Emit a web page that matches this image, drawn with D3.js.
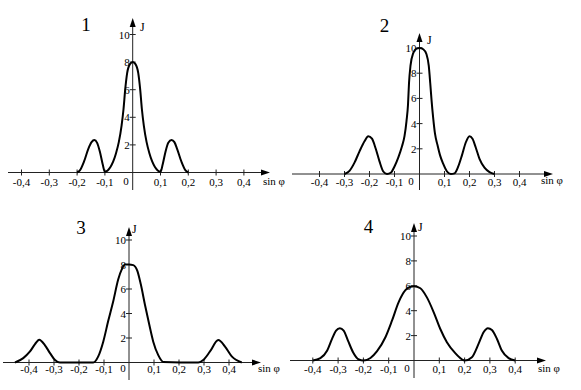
<!DOCTYPE html>
<html>
<head>
<meta charset="utf-8">
<script src="https://cdn.jsdelivr.net/npm/d3@7"></script>
<style>
  body { margin: 0; background: #fff; }
  svg { display: block; }
</style>
</head>
<body>
<div id="chart"></div>
<script>
// tick values shared by all four plots
const xTicks = [-0.4, -0.3, -0.2, -0.1, 0.1, 0.2, 0.3, 0.4];
const yTicks = [2, 4, 6, 8, 10];
const titles = ["1", "2", "3", "4"];

// plot 1
const sin1 = [-0.2, -0.19, -0.175, -0.16, -0.148, -0.138, -0.128, -0.118, -0.108, -0.1, -0.09, -0.08, -0.07, -0.06, -0.05, -0.04, -0.033, -0.027, -0.02, -0.01, 0,
              0.01, 0.02, 0.027, 0.033, 0.04, 0.05, 0.06, 0.07, 0.08, 0.09, 0.1, 0.108, 0.118, 0.128, 0.14, 0.15, 0.16, 0.175, 0.19, 0.2];
const J1 = [0, 0.15, 0.8, 1.7, 2.2, 2.35, 2.15, 1.5, 0.6, 0.05, 0.15, 0.4, 0.8, 1.4, 2.2, 3.4, 4.6, 6, 7.2, 7.85, 8,
            7.85, 7.2, 6, 4.6, 3.4, 2.2, 1.4, 0.8, 0.4, 0.15, 0.05, 0.6, 1.5, 2.15, 2.35, 2.2, 1.7, 0.8, 0.15, 0];

// plot 2
const sin2 = [-0.3, -0.28, -0.26, -0.24, -0.22, -0.205, -0.19, -0.175, -0.16, -0.145, -0.13, -0.115, -0.1, -0.085, -0.07, -0.06, -0.052, -0.046, -0.042, -0.036, -0.025, -0.012, 0,
              0.015, 0.028, 0.037, 0.043, 0.048, 0.055, 0.062, 0.072, 0.082, 0.095, 0.11, 0.125, 0.14, 0.155, 0.17, 0.185, 0.2, 0.212, 0.225, 0.24, 0.26, 0.28, 0.3];
const J2 = [0, 0.25, 0.9, 1.8, 2.6, 3.0, 2.8, 2.0, 1.0, 0.2, 0, 0.1, 0.6, 1.3, 2.2, 3.0, 4.2, 5.5, 7.2, 8.6, 9.6, 9.95, 10,
            9.9, 9.5, 8.6, 7.2, 5.9, 4.4, 3.2, 2.3, 1.5, 0.8, 0.2, 0, 0.05, 0.6, 1.5, 2.5, 3.0, 2.8, 2.1, 1.2, 0.5, 0.15, 0];

// plot 3
const sin3 = [-0.456, -0.423, -0.396, -0.376, -0.359, -0.336, -0.316, -0.296, -0.276, -0.143, -0.123, -0.103, -0.083, -0.063, -0.043, -0.029, -0.016, 0,
              0.017, 0.033, 0.047, 0.064, 0.081, 0.097, 0.117, 0.137, 0.277, 0.297, 0.324, 0.357, 0.384, 0.411, 0.451];
const J3 = [0, 0.36, 0.9, 1.5, 1.86, 1.4, 0.77, 0.2, 0, 0, 0.5, 1.7, 3.4, 5.0, 6.8, 7.6, 8.0, 8.0,
            7.95, 7.5, 6.4, 4.7, 3.1, 1.7, 0.6, 0.05, 0, 0.2, 0.9, 1.83, 1.3, 0.5, 0];

// plot 4
const sin4 = [-0.4, -0.37, -0.343, -0.324, -0.308, -0.293, -0.278, -0.261, -0.241, -0.218, -0.2, -0.172, -0.146, -0.113, -0.087, -0.061, -0.034, -0.014, 0,
              0.025, 0.051, 0.078, 0.104, 0.13, 0.163, 0.189, 0.2, 0.229, 0.255, 0.275, 0.292, 0.308, 0.328, 0.347, 0.374, 0.4];
const J4 = [0, 0.19, 0.8, 1.73, 2.4, 2.6, 2.4, 1.6, 0.67, 0.08, 0, 0.2, 0.75, 1.87, 3.2, 4.67, 5.65, 5.92, 5.97,
            5.8, 5.07, 3.87, 2.53, 1.47, 0.59, 0.1, 0, 0.27, 1.33, 2.27, 2.6, 2.45, 1.73, 0.8, 0.19, 0];

// where each plot sits on the page
const layout = [
  { cx: 132.7, cy: 172.5, kx: 278, ky: 13.8,  left: 8,   right: 270, bottom: 190, top: 18,
    title: [86, 31],   jLab: [140, 30.5], sinLab: [263, 185], tickY: 186, zero: [126, 185] },
  { cx: 419.5, cy: 174,   kx: 250, ky: 12.6,  left: 292, right: 553, bottom: 190, top: 33,
    title: [384.5, 32], jLab: [427, 44],  sinLab: [541, 184], tickY: 186, zero: [411, 185] },
  { cx: 129,   cy: 362.5, kx: 250, ky: 12.25, left: 3,   right: 261, bottom: 380, top: 227,
    title: [81, 234],  jLab: [132, 233],  sinLab: [258, 372], tickY: 373, zero: [123, 372] },
  { cx: 414,   cy: 360.5, kx: 253, ky: 12.45, left: 290, right: 546, bottom: 378, top: 223,
    title: [368.5, 233], jLab: [418, 231], sinLab: [538, 372], tickY: 373, zero: [407, 372] }
];

const series = [[sin1, J1], [sin2, J2], [sin3, J3], [sin4, J4]];
const serif = "'Liberation Serif', 'Times New Roman', 'DejaVu Serif', serif";

const svg = d3.select("#chart").append("svg")
  .attr("width", 581)
  .attr("height", 390)
  .attr("font-family", serif);

const fmt = (v) => (v < 0 ? "-" : "") + Math.abs(v).toFixed(1).replace(".", ",");

layout.forEach((p, i) => {
  const x = d3.scaleLinear().domain([-1, 1]).range([p.cx - p.kx, p.cx + p.kx]);
  const y = d3.scaleLinear().domain([0, 10]).range([p.cy, p.cy - 10 * p.ky]);
  const g = svg.append("g");
  const axisCol = "#222";

  // axes
  g.append("line").attr("x1", p.left).attr("x2", p.right - 4).attr("y1", y(0)).attr("y2", y(0))
    .attr("stroke", axisCol).attr("stroke-width", 1);
  g.append("line").attr("x1", x(0)).attr("x2", x(0)).attr("y1", p.bottom).attr("y2", p.top + 4)
    .attr("stroke", axisCol).attr("stroke-width", 1);
  g.append("path")
    .attr("d", `M${p.right},${y(0)} L${p.right - 9},${y(0) - 3} L${p.right - 9},${y(0) + 3} Z`)
    .attr("fill", "#000");
  g.append("path")
    .attr("d", `M${x(0)},${p.top} L${x(0) - 3},${p.top + 9} L${x(0) + 3},${p.top + 9} Z`)
    .attr("fill", "#000");

  // x ticks
  g.selectAll(".xt").data(xTicks).enter().append("line")
    .attr("x1", d => x(d)).attr("x2", d => x(d))
    .attr("y1", y(0) - 3).attr("y2", y(0) + 3)
    .attr("stroke", axisCol);
  g.selectAll(".xl").data(xTicks).enter().append("text")
    .attr("x", d => x(d)).attr("y", p.tickY)
    .attr("text-anchor", "middle")
    .attr("font-size", 11)
    .text(fmt);

  // y ticks
  g.selectAll(".yt").data(yTicks).enter().append("line")
    .attr("x1", x(0) - 3).attr("x2", x(0) + 3)
    .attr("y1", d => y(d)).attr("y2", d => y(d))
    .attr("stroke", axisCol);
  g.selectAll(".yl").data(yTicks).enter().append("text")
    .attr("x", x(0) - 3).attr("y", d => y(d) + 4)
    .attr("text-anchor", "end")
    .attr("font-size", 11)
    .text(d => d);

  g.append("text").attr("x", p.zero[0]).attr("y", p.zero[1])
    .attr("text-anchor", "middle").attr("font-size", 11).text("0");
  g.append("text").attr("x", p.jLab[0]).attr("y", p.jLab[1])
    .attr("font-size", 12).text("J");
  g.append("text").attr("x", p.sinLab[0]).attr("y", p.sinLab[1])
    .attr("font-size", 11).text("sin φ");
  g.append("text").attr("x", p.title[0]).attr("y", p.title[1])
    .attr("text-anchor", "middle").attr("font-size", 19).text(titles[i]);

  // curve
  const [xs, js] = series[i];
  const pts = xs.map((v, k) => [v, js[k]]);
  const line = d3.line()
    .x(d => x(d[0]))
    .y(d => y(d[1]))
    .curve(d3.curveMonotoneX);
  g.append("path").datum(pts)
    .attr("d", line)
    .attr("fill", "none")
    .attr("stroke", "#000")
    .attr("stroke-width", 2)
    .attr("stroke-linejoin", "round");
});
</script>
</body>
</html>
